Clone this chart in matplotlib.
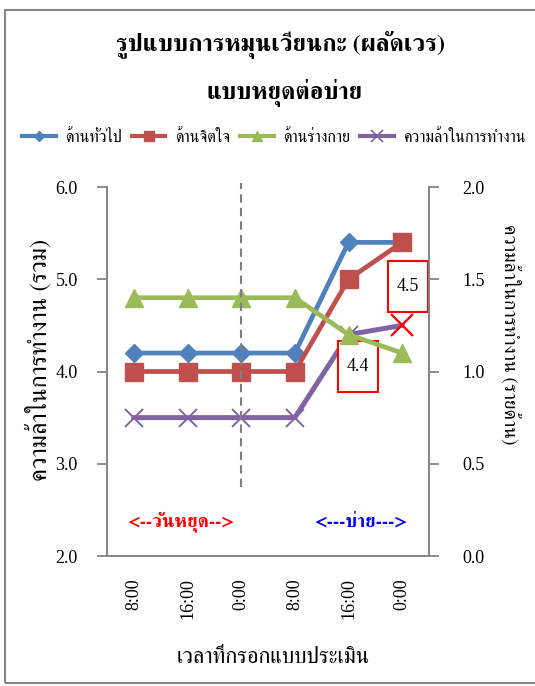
import matplotlib
matplotlib.use("Agg")
import matplotlib.pyplot as plt
from matplotlib.lines import Line2D
from matplotlib.patches import Rectangle
from matplotlib.path import Path

# times of the fatigue survey
times = ["8:00", "16:00", "0:00", "8:00", "16:00", "0:00"]

# per-aspect scores (right axis)
general = [1.1, 1.1, 1.1, 1.1, 1.7, 1.7]
mental = [1.0, 1.0, 1.0, 1.0, 1.5, 1.7]
physical = [1.4, 1.4, 1.4, 1.4, 1.2, 1.1]
# overall fatigue (left axis)
overall = [3.5, 3.5, 3.5, 3.5, 4.4, 4.5]

names = ["ด้านทั่วไป", "ด้านจิตใจ", "ด้านร่างกาย", "ความล้าในการทำงาน"]
colors = ["#4F81BD", "#C0504D", "#9BBB59", "#8064A2"]

thai = ["FreeSerif", "DejaVu Sans"]
num = ["Liberation Serif", "DejaVu Serif"]
grey = "#868686"


def tall_box(x0, y0, width, height, mutation_size):
    # label box with more room above and below the number than at the sides
    px, py = 0.5 * mutation_size, 0.95 * mutation_size
    x1, y1 = x0 + width + px, y0 + height + py
    x0, y0 = x0 - px, y0 - py
    return Path([(x0, y0), (x1, y0), (x1, y1), (x0, y1), (x0, y0)],
                closed=True)


fig = plt.figure(figsize=(5.35, 6.86), dpi=100)
ax = fig.add_axes([0.2, 0.1895, 0.6019, 0.5379])
ax2 = ax.twinx()

x = list(range(len(times)))

ax.plot(x, overall, color=colors[3], lw=3.6, marker="x", ms=13, mew=1.4,
        solid_joinstyle="round", zorder=2)
ax.plot(x[-1], overall[-1], marker="x", color="#FF0000", ms=16, mew=1.6,
        zorder=3)

ax2.plot(x, general, color=colors[0], lw=3.4, marker="D", ms=8.7, zorder=3)
ax2.plot(x, mental, color=colors[1], lw=3.4, marker="s", ms=13.5, zorder=3)
ax2.plot(x, physical, color=colors[2], lw=3.4, marker="^", ms=12.5, zorder=3)

# boundary between the day-off block and the afternoon block
ax2.plot([2, 2], [0.375, 2.02], color="#7F7F7F", lw=1.5, dashes=(4, 2.5),
         zorder=5, clip_on=False)

for i, dx, dy in [(4, 7, -23), (5, 4, 28)]:
    ax.annotate("%.1f" % overall[i], (x[i], overall[i]), xytext=(dx, dy),
                textcoords="offset points", ha="center", va="center",
                fontsize=13, family=num,
                bbox=dict(boxstyle=tall_box, fc="white", ec="#FF0000",
                          lw=1.5), zorder=6)

ax2.text(0.23, 0.092, "<--วันหยุด-->", transform=ax.transAxes, color="#FF0000",
         ha="center", va="center", fontsize=13.5, weight="bold", family=thai,
         zorder=6)
ax2.text(0.789, 0.092, "<---บ่าย--->", transform=ax.transAxes, color="#0000FF",
         ha="center", va="center", fontsize=13.5, weight="bold", family=thai,
         zorder=6)

ax.set_xlim(-0.5, 5.5)
ax.set_ylim(2, 6)
ax2.set_ylim(0, 2)
ax.set_yticks([2, 3, 4, 5, 6])
ax.set_yticklabels(["%.1f" % v for v in [2, 3, 4, 5, 6]])
ax2.set_yticks([0, 0.5, 1, 1.5, 2])
ax2.set_yticklabels(["%.1f" % v for v in [0, 0.5, 1, 1.5, 2]])
ax.set_xticks(x)
ax.set_xticklabels(times, rotation=90, va="top")

for a in (ax, ax2):
    for side in ("left", "right", "bottom"):
        a.spines[side].set_color(grey)
        a.spines[side].set_linewidth(1.3)
    a.spines["top"].set_visible(False)
    for lab in a.get_yticklabels() + a.get_xticklabels():
        lab.set_family(num)
        lab.set_fontsize(13)
ax.tick_params(axis="y", length=7, width=1.3, color=grey, pad=14)
ax2.tick_params(axis="y", length=7, width=1.3, color=grey, pad=17)
ax.tick_params(axis="x", length=0, pad=16)

ax.set_ylabel("ความล้าในการทำงาน (รวม)", family=thai, fontsize=17.5,
              va="center")
ax.yaxis.set_label_coords(-0.211, 0.53)
ax2.set_ylabel("ความล้าในการทำงาน (รายด้าน)", family=thai, fontsize=14,
               rotation=270, va="center")
ax2.yaxis.set_label_coords(1.255, 0.6)
ax.set_xlabel("เวลาที่กรอกแบบประเมิน", family=thai, fontsize=16, va="center")
ax.xaxis.set_label_coords((273 - 107) / 322, -(658 - 556) / 369)

fig.text(281 / 535, 1 - 45 / 686, "รูปแบบการหมุนเวียนกะ (ผลัดเวร)",
         ha="center", va="center", fontsize=17.5, weight="bold", family=thai)
fig.text(285 / 535, 1 - 93 / 686, "แบบหยุดต่อบ่าย",
         ha="center", va="center", fontsize=17.5, weight="bold", family=thai)

handles = [
    Line2D([], [], color=colors[0], lw=3, marker="D", ms=5),
    Line2D([], [], color=colors[1], lw=3, marker="s", ms=7),
    Line2D([], [], color=colors[2], lw=3, marker="^", ms=7),
    Line2D([], [], color=colors[3], lw=3, marker="x", ms=8, mew=1.2),
]
fig.legend(handles, names, loc="center", bbox_to_anchor=(0.512, 1 - 137 / 686),
           ncol=4, frameon=False, handlelength=2.1, handletextpad=0.6,
           columnspacing=0.6, borderpad=0, prop={"family": thai, "size": 11.6})

fig.patches.append(Rectangle((5 / 535, 3 / 686), 540 / 535, 673 / 686,
                             transform=fig.transFigure, fill=False,
                             edgecolor=grey, lw=1.5))

fig.savefig("out.png", dpi=100)
